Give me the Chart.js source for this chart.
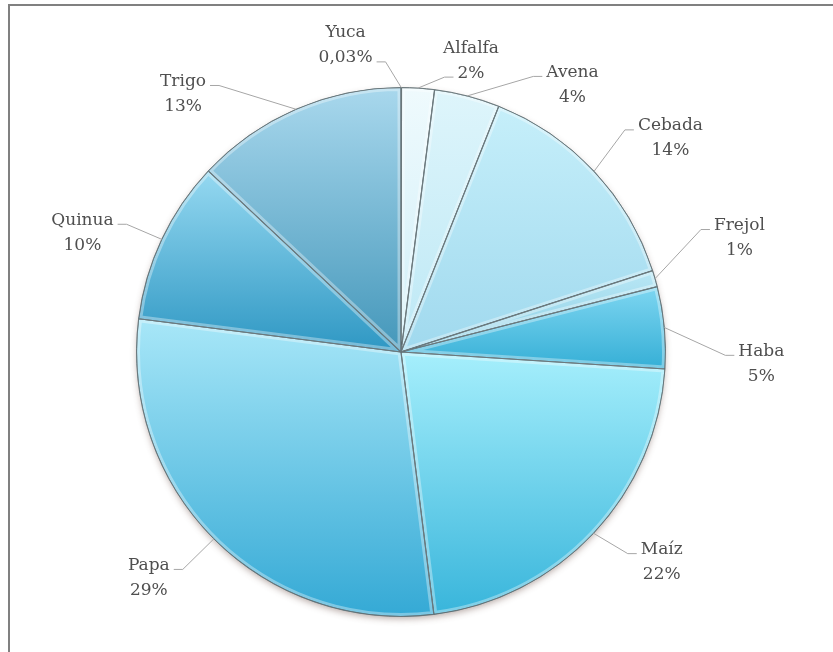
<!DOCTYPE html>
<html>
<head>
<meta charset="utf-8">
<script src="https://cdn.jsdelivr.net/npm/chart.js@4/dist/chart.umd.min.js"></script>
<style>
  html, body { margin: 0; padding: 0; background: #fff; }
  #contenedorGrafico { width: 833px; height: 652px; }
</style>
</head>
<body>
<div id="contenedorGrafico"><canvas id="graficoCanvas" width="833" height="652"></canvas></div>
<script>
// datos del gráfico
const cultivos = ['Yuca', 'Alfalfa', 'Avena', 'Cebada', 'Frejol', 'Haba', 'Maíz', 'Papa', 'Quinua', 'Trigo'];
const porcentajes = [0.03, 2, 4, 14, 1, 5, 22, 29, 10, 13];

// estilo de cada sector (arriba claro, abajo oscuro)
const coloresClaro = ['#e4f6fb', '#effafd', '#def5fb', '#c6effa', '#b9e7f5', '#7ed6f1', '#a6effc', '#a8e7f8', '#96d9f1', '#a9d8ed'];
const coloresOscuro = ['#c8ecf6', '#d0eff8', '#bde8f5', '#a0d9ee', '#8ccfe5', '#35afd6', '#38b5db', '#34a9d5', '#2e97c3', '#4497ba'];

// ajuste de etiquetas: [giro en grados respecto al centro del sector, distancia en radios]
const ajusteEtiquetas = [[-10.3, 1.178], [9.8, 1.133], [18.2, 1.20], [4.7, 1.30], [-2.5, 1.35], [7.2, 1.363], [-4.4, 1.266], [3.1, 1.28], [-4.7, 1.286], [-16.8, 1.277]];

const fuente = '17px "DejaVu Serif"';
const altoLinea = 25;

function formatoPct(v) {
    return v.toLocaleString('es-ES', { maximumFractionDigits: 2 }) + '%';
}

function rellenoSector(context) {
    const chart = context.chart;
    const area = chart.chartArea;
    const i = context.dataIndex;
    if (!area) return coloresClaro[i];
    const cx = (area.left + area.right) / 2;
    const cy = (area.top + area.bottom) / 2;
    const r = Math.min(area.width, area.height) / 2;
    const total = porcentajes.reduce((a, b) => a + b, 0);
    let acumulado = 0;
    for (let k = 0; k < i; k++) acumulado += porcentajes[k];
    const a0 = -Math.PI / 2 + 2 * Math.PI * acumulado / total;
    const a1 = a0 + 2 * Math.PI * porcentajes[i] / total;
    const ys = [cy, cy + r * Math.sin(a0), cy + r * Math.sin(a1)];
    if (a0 <= Math.PI / 2 && a1 >= Math.PI / 2) ys.push(cy + r);
    if (a0 <= 3 * Math.PI / 2 && a1 >= 3 * Math.PI / 2) ys.push(cy - r);
    const g = chart.ctx.createLinearGradient(0, Math.min(...ys), 0, Math.max(...ys));
    g.addColorStop(0, coloresClaro[i]);
    g.addColorStop(1, coloresOscuro[i]);
    return g;
}

const marco = {
    id: 'marco',
    beforeDraw(chart) {
        const ctx = chart.ctx;
        ctx.save();
        ctx.fillStyle = '#808080';
        ctx.fillRect(8, 4, chart.width - 8, 2);
        ctx.fillRect(8, 4, 2, chart.height - 4);
        ctx.restore();
    }
};

const sombra = {
    id: 'sombra',
    beforeDatasetsDraw(chart) {
        const arco = chart.getDatasetMeta(0).data[0];
        if (!arco) return;
        const ctx = chart.ctx;
        ctx.save();
        ctx.shadowColor = 'rgba(90, 60, 50, 0.45)';
        ctx.shadowBlur = 7;
        ctx.shadowOffsetY = 3;
        ctx.fillStyle = '#ffffff';
        ctx.beginPath();
        ctx.arc(arco.x, arco.y, arco.outerRadius - 1, 0, Math.PI * 2);
        ctx.fill();
        ctx.restore();
    }
};

const bisel = {
    id: 'bisel',
    afterDatasetsDraw(chart) {
        const ctx = chart.ctx;
        chart.getDatasetMeta(0).data.forEach(arco => {
            ctx.save();
            ctx.beginPath();
            ctx.moveTo(arco.x, arco.y);
            ctx.arc(arco.x, arco.y, arco.outerRadius, arco.startAngle, arco.endAngle);
            ctx.closePath();
            ctx.clip();
            ctx.lineWidth = 7;
            ctx.strokeStyle = 'rgba(255, 255, 255, 0.35)';
            ctx.stroke();
            ctx.lineWidth = 1.2;
            ctx.strokeStyle = 'rgba(80, 95, 100, 0.85)';
            ctx.stroke();
            ctx.restore();
        });
    }
};

const etiquetas = {
    id: 'etiquetas',
    afterDraw(chart) {
        const ctx = chart.ctx;
        const arcos = chart.getDatasetMeta(0).data;
        ctx.save();
        ctx.font = fuente;
        ctx.textAlign = 'center';
        ctx.textBaseline = 'middle';
        arcos.forEach((arco, i) => {
            const R = arco.outerRadius;
            const medio = (arco.startAngle + arco.endAngle) / 2;
            const ang = medio + ajusteEtiquetas[i][0] * Math.PI / 180;
            const lx = arco.x + R * ajusteEtiquetas[i][1] * Math.cos(ang);
            const ly = arco.y + R * ajusteEtiquetas[i][1] * Math.sin(ang);
            const lineas = [cultivos[i], formatoPct(porcentajes[i])];

            // línea guía
            const px = arco.x + R * Math.cos(medio);
            const py = arco.y + R * Math.sin(medio);
            const pieTop = arco.y - R;
            const idx = ly < pieTop - 15 ? 1 : 0;
            const yLinea = ly + (idx === 0 ? -altoLinea / 2 : altoLinea / 2);
            const w = ctx.measureText(lineas[idx]).width;
            const derecha = lx > px;
            const ax = derecha ? lx - w / 2 - 4 : lx + w / 2 + 4;
            const ay = yLinea + 4;
            const bx = derecha ? ax - 9 : ax + 9;
            ctx.strokeStyle = '#a6a6a6';
            ctx.lineWidth = 1;
            ctx.beginPath();
            ctx.moveTo(px, py);
            ctx.lineTo(bx, ay);
            ctx.lineTo(ax, ay);
            ctx.stroke();

            ctx.fillStyle = '#4f4f4f';
            ctx.fillText(lineas[0], lx, ly - altoLinea / 2);
            ctx.fillText(lineas[1], lx, ly + altoLinea / 2);
        });
        ctx.restore();
    }
};

new Chart(document.getElementById('graficoCanvas'), {
    type: 'pie',
    data: {
        labels: cultivos,
        datasets: [{
            data: porcentajes,
            backgroundColor: rellenoSector,
            borderColor: 'rgba(80, 95, 100, 0.85)',
            borderWidth: 1
        }]
    },
    options: {
        responsive: false,
        animation: false,
        layout: { padding: { left: 136, right: 167, top: 87, bottom: 35 } },
        plugins: {
            legend: { display: false },
            tooltip: { enabled: false }
        }
    },
    plugins: [marco, sombra, bisel, etiquetas]
});
</script>
</body>
</html>
